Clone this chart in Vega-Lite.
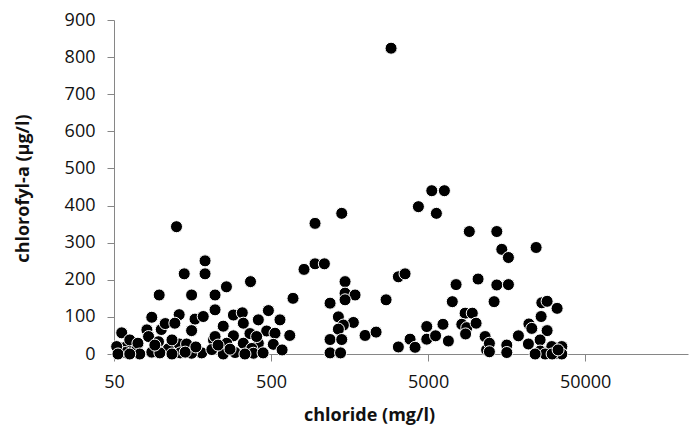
{
  "$schema": "https://vega.github.io/schema/vega-lite/v6.json",
  "autosize": {"type": "none"},
  "padding": {"left": 114, "top": 20, "right": 1, "bottom": 75},
  "width": 574,
  "height": 334,
  "background": "white",
  "config": {
    "view": {"stroke": null},
    "font": "Open Sans",
    "axis": {
      "grid": false,
      "domainColor": "#868686",
      "tickColor": "#868686",
      "tickSize": 7,
      "labelFont": "Open Sans",
      "labelFontSize": 18,
      "labelFontWeight": 500,
      "labelColor": "#111111",
      "titleFont": "Open Sans",
      "titleFontSize": 18,
      "titleFontWeight": "bold",
      "titleColor": "#111111"
    }
  },
  "data": {
    "values": [
      {"chloride": 56, "chla": 57}, {"chloride": 125, "chla": 343}, {"chloride": 140, "chla": 216},
      {"chloride": 190, "chla": 251}, {"chloride": 190, "chla": 216}, {"chloride": 97, "chla": 159},
      {"chloride": 156, "chla": 159}, {"chloride": 87, "chla": 99}, {"chloride": 130, "chla": 106},
      {"chloride": 164, "chla": 94}, {"chloride": 100, "chla": 66}, {"chloride": 81, "chla": 65},
      {"chloride": 83, "chla": 47}, {"chloride": 156, "chla": 63}, {"chloride": 106, "chla": 82},
      {"chloride": 122, "chla": 83}, {"chloride": 60, "chla": 20}, {"chloride": 70, "chla": 12},
      {"chloride": 59, "chla": 4}, {"chloride": 87, "chla": 5}, {"chloride": 111, "chla": 14},
      {"chloride": 130, "chla": 27}, {"chloride": 132, "chla": 3}, {"chloride": 181, "chla": 3},
      {"chloride": 145, "chla": 27}, {"chloride": 117, "chla": 38}, {"chloride": 63, "chla": 38},
      {"chloride": 52, "chla": 20}, {"chloride": 53, "chla": 0}, {"chloride": 71, "chla": 29},
      {"chloride": 96, "chla": 33}, {"chloride": 156, "chla": 2}, {"chloride": 185, "chla": 101},
      {"chloride": 73, "chla": 0}, {"chloride": 98, "chla": 3}, {"chloride": 63, "chla": 0},
      {"chloride": 117, "chla": 0}, {"chloride": 91, "chla": 24}, {"chloride": 142, "chla": 5},
      {"chloride": 166, "chla": 19},
      {"chloride": 220, "chla": 159}, {"chloride": 260, "chla": 181}, {"chloride": 370, "chla": 195},
      {"chloride": 690, "chla": 150}, {"chloride": 220, "chla": 119}, {"chloride": 288, "chla": 105},
      {"chloride": 328, "chla": 111}, {"chloride": 481, "chla": 117}, {"chloride": 570, "chla": 92},
      {"chloride": 248, "chla": 75}, {"chloride": 415, "chla": 92}, {"chloride": 333, "chla": 83},
      {"chloride": 288, "chla": 49}, {"chloride": 367, "chla": 55}, {"chloride": 469, "chla": 62},
      {"chloride": 530, "chla": 56}, {"chloride": 658, "chla": 50}, {"chloride": 215, "chla": 38},
      {"chloride": 261, "chla": 29}, {"chloride": 333, "chla": 29}, {"chloride": 415, "chla": 29},
      {"chloride": 517, "chla": 26}, {"chloride": 210, "chla": 12}, {"chloride": 295, "chla": 4},
      {"chloride": 377, "chla": 15}, {"chloride": 386, "chla": 2}, {"chloride": 248, "chla": 0},
      {"chloride": 405, "chla": 47}, {"chloride": 220, "chla": 47}, {"chloride": 445, "chla": 3},
      {"chloride": 341, "chla": 0}, {"chloride": 274, "chla": 13}, {"chloride": 230, "chla": 24},
      {"chloride": 588, "chla": 11},
      {"chloride": 811, "chla": 228}, {"chloride": 953, "chla": 243}, {"chloride": 1093, "chla": 243},
      {"chloride": 953, "chla": 352}, {"chloride": 1410, "chla": 379}, {"chloride": 1480, "chla": 195},
      {"chloride": 1480, "chla": 164}, {"chloride": 1714, "chla": 159}, {"chloride": 1188, "chla": 137},
      {"chloride": 1480, "chla": 146}, {"chloride": 2701, "chla": 146}, {"chloride": 1342, "chla": 100},
      {"chloride": 1672, "chla": 85}, {"chloride": 1444, "chla": 78}, {"chloride": 1342, "chla": 67},
      {"chloride": 1985, "chla": 50}, {"chloride": 2333, "chla": 59}, {"chloride": 1188, "chla": 39},
      {"chloride": 1410, "chla": 39}, {"chloride": 1188, "chla": 3}, {"chloride": 1386, "chla": 3},
      {"chloride": 3234, "chla": 208}, {"chloride": 3568, "chla": 216}, {"chloride": 2906, "chla": 824},
      {"chloride": 4338, "chla": 397}, {"chloride": 5648, "chla": 379}, {"chloride": 5280, "chla": 440},
      {"chloride": 6351, "chla": 440}, {"chloride": 9152, "chla": 330}, {"chloride": 7538, "chla": 187},
      {"chloride": 7131, "chla": 141}, {"chloride": 10408, "chla": 202}, {"chloride": 3234, "chla": 19},
      {"chloride": 3840, "chla": 40}, {"chloride": 4132, "chla": 18}, {"chloride": 4905, "chla": 74},
      {"chloride": 4905, "chla": 40}, {"chloride": 5581, "chla": 49}, {"chloride": 6220, "chla": 80},
      {"chloride": 6734, "chla": 35}, {"chloride": 8605, "chla": 110}, {"chloride": 9560, "chla": 110},
      {"chloride": 8197, "chla": 80}, {"chloride": 8821, "chla": 71}, {"chloride": 8666, "chla": 54},
      {"chloride": 10110, "chla": 83}, {"chloride": 11536, "chla": 47}, {"chloride": 11793, "chla": 11},
      {"chloride": 13696, "chla": 330}, {"chloride": 14737, "chla": 282}, {"chloride": 16238, "chla": 260},
      {"chloride": 24374, "chla": 287}, {"chloride": 13696, "chla": 186}, {"chloride": 16238, "chla": 187},
      {"chloride": 13163, "chla": 141}, {"chloride": 26499, "chla": 138}, {"chloride": 28641, "chla": 142},
      {"chloride": 33160, "chla": 123}, {"chloride": 26230, "chla": 101}, {"chloride": 21924, "chla": 81},
      {"chloride": 22881, "chla": 69}, {"chloride": 28641, "chla": 63}, {"chloride": 18800, "chla": 49},
      {"chloride": 21770, "chla": 27}, {"chloride": 25847, "chla": 38}, {"chloride": 12287, "chla": 29},
      {"chloride": 12287, "chla": 6}, {"chloride": 15855, "chla": 24}, {"chloride": 15855, "chla": 4},
      {"chloride": 28764, "chla": 4}, {"chloride": 35531, "chla": 20}, {"chloride": 25847, "chla": 8},
      {"chloride": 33010, "chla": 2}, {"chloride": 35531, "chla": 0}, {"chloride": 30685, "chla": 20},
      {"chloride": 27800, "chla": 0}, {"chloride": 30820, "chla": 0}, {"chloride": 24020, "chla": 0},
      {"chloride": 33650, "chla": 11}
    ]
  },
  "mark": {"type": "point", "shape": "circle", "filled": true, "fill": "#000000", "stroke": "#ffffff", "strokeWidth": 1, "size": 145, "opacity": 1},
  "encoding": {
    "x": {
      "field": "chloride",
      "type": "quantitative",
      "scale": {"type": "log", "domain": [50, 226000], "nice": false},
      "axis": {
        "title": "chloride (mg/l)",
        "values": [50, 500, 5000, 50000],
        "format": "d",
        "labelPadding": 12,
        "labelFlush": false,
        "titleX": 255,
        "titleY": 66,
        "titleAlign": "center",
        "titleBaseline": "alphabetic"
      }
    },
    "y": {
      "field": "chla",
      "type": "quantitative",
      "scale": {"domain": [0, 900], "nice": false},
      "axis": {
        "title": "chlorofyl-a (µg/l)",
        "values": [0, 100, 200, 300, 400, 500, 600, 700, 800, 900],
        "labelPadding": 12,
        "titleAngle": -90,
        "titleX": -86,
        "titleY": 168,
        "titleAlign": "center",
        "titleBaseline": "alphabetic"
      }
    }
  }
}
